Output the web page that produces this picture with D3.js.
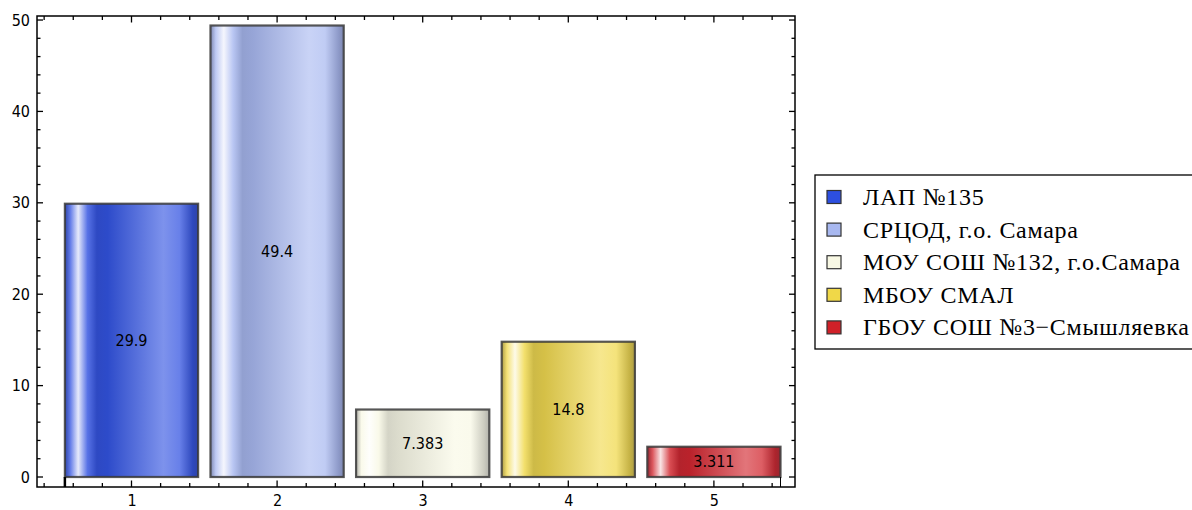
<!DOCTYPE html>
<html>
<head>
<meta charset="utf-8">
<script src="https://cdn.jsdelivr.net/npm/d3@7/dist/d3.min.js"></script>
<style>
  html, body { margin: 0; padding: 0; background: #ffffff; }
  svg { display: block; }
</style>
</head>
<body>
<svg id="chart" width="1192" height="510"></svg>
<script>
// Bar positions, values and series names
const categories = [1, 2, 3, 4, 5];
const values = [29.9, 49.4, 7.383, 14.8, 3.311];
const seriesNames = [
  "ЛАП №135",
  "СРЦОД, г.о. Самара",
  "МОУ СОШ №132, г.о.Самара",
  "МБОУ СМАЛ",
  "ГБОУ СОШ №3−Смышляевка"
];
const seriesColors = ["#2d4fe0", "#a8b8f0", "#f8f8e4", "#f0d848", "#d02028"];
const yTickValues = [0, 10, 20, 30, 40, 50];
const xTickValues = [1, 2, 3, 4, 5];

const svg = d3.select("#chart");
const frame = { left: 37, right: 795, top: 16, bottom: 487 };

const x = d3.scaleLinear().domain([0.351, 5.557]).range([frame.left, frame.right]);
const y = d3.scaleLinear().domain([-1.094, 50.44]).range([frame.bottom, frame.top]);
const barWidth = 0.915;

const tickFont = "'DejaVu Sans Condensed', 'DejaVu Sans', sans-serif";

// Glassy horizontal gradients for each bar
const defs = svg.append("defs");
const mix = (a, b, t) => d3.interpolateRgb(a, b)(t);
seriesColors.forEach((c, i) => {
  const g = defs.append("linearGradient")
    .attr("id", "grad" + i)
    .attr("x1", 0).attr("x2", 1).attr("y1", 0).attr("y2", 0);
  const stops = [
    [0.00, mix(c, "#303040", 0.35)],
    [0.04, mix(c, "#ffffff", 0.25)],
    [0.10, mix(c, "#ffffff", 0.88)],
    [0.17, mix(c, "#ffffff", 0.2)],
    [0.24, mix(c, "#303040", 0.18)],
    [0.32, mix(c, "#303040", 0.14)],
    [0.74, mix(c, "#ffffff", 0.38)],
    [0.86, mix(c, "#ffffff", 0.28)],
    [0.96, mix(c, "#303040", 0.22)],
    [1.00, mix(c, "#303040", 0.35)]
  ];
  stops.forEach(([o, col]) => g.append("stop").attr("offset", o).attr("stop-color", col));
});

// Bars
const bars = svg.append("g");
categories.forEach((cat, i) => {
  const x0 = x(cat - barWidth / 2), x1 = x(cat + barWidth / 2);
  bars.append("rect")
    .attr("x", x0)
    .attr("y", y(values[i]))
    .attr("width", x1 - x0)
    .attr("height", y(0) - y(values[i]))
    .attr("fill", "url(#grad" + i + ")")
    .attr("stroke", "#3a3a3a")
    .attr("stroke-opacity", 0.85)
    .attr("stroke-width", 2.2);
});

// Value labels in the middle of each bar
categories.forEach((cat, i) => {
  svg.append("text")
    .attr("x", x(cat))
    .attr("y", y(values[i] / 2))
    .attr("dy", "0.35em")
    .attr("text-anchor", "middle")
    .attr("font-family", tickFont)
    .attr("font-size", 16)
    .attr("fill", "#000")
    .text(String(values[i]));
});

// Axis stubs at the origin below the bars
svg.append("line")
  .attr("x1", x(categories[0] - barWidth / 2)).attr("x2", x(categories[0] - barWidth / 2))
  .attr("y1", y(0)).attr("y2", frame.bottom)
  .attr("stroke", "#000").attr("stroke-width", 2.5);
svg.append("line")
  .attr("x1", x(categories[4] + barWidth / 2)).attr("x2", x(categories[4] + barWidth / 2))
  .attr("y1", y(0)).attr("y2", frame.bottom)
  .attr("stroke", "#000").attr("stroke-width", 1);

// Frame
svg.append("rect")
  .attr("x", frame.left).attr("y", frame.top)
  .attr("width", frame.right - frame.left).attr("height", frame.bottom - frame.top)
  .attr("fill", "none").attr("stroke", "#000").attr("stroke-width", 1.5);

// Frame ticks
const ticks = svg.append("g").attr("stroke", "#000").attr("stroke-width", 1.3);
const yMinor = d3.range(0, 51, 2);
yMinor.forEach(v => {
  const major = v % 10 === 0;
  const len = major ? 6 : 3.5;
  ticks.append("line").attr("x1", frame.left).attr("x2", frame.left + len)
    .attr("y1", y(v)).attr("y2", y(v));
  ticks.append("line").attr("x1", frame.right).attr("x2", frame.right - len)
    .attr("y1", y(v)).attr("y2", y(v));
});
const xMinor = d3.range(4, 56, 2).map(d => d / 10);
xMinor.forEach(v => {
  const major = Math.abs(v - Math.round(v)) < 1e-9;
  const len = major ? 6.5 : 4;
  ticks.append("line").attr("x1", x(v)).attr("x2", x(v))
    .attr("y1", frame.bottom).attr("y2", frame.bottom - len);
  ticks.append("line").attr("x1", x(v)).attr("x2", x(v))
    .attr("y1", frame.top).attr("y2", frame.top + len);
});

// Tick labels via D3 axes (lines hidden, frame ticks drawn above)
const yAxis = svg.append("g")
  .attr("transform", `translate(${frame.left},0)`)
  .call(d3.axisLeft(y).tickValues(yTickValues).tickFormat(d3.format("d")).tickSize(0).tickPadding(7));
yAxis.select(".domain").remove();
yAxis.selectAll("text").attr("font-family", tickFont).attr("font-size", 16).attr("fill", "#000");

const xAxis = svg.append("g")
  .attr("transform", `translate(0,${frame.bottom})`)
  .call(d3.axisBottom(x).tickValues(xTickValues).tickFormat(d3.format("d")).tickSize(0).tickPadding(8));
xAxis.select(".domain").remove();
xAxis.selectAll("text").attr("font-family", tickFont).attr("font-size", 16).attr("fill", "#000");

// Legend
const legend = svg.append("g");
legend.append("rect")
  .attr("x", 815).attr("y", 175).attr("width", 390).attr("height", 174)
  .attr("fill", "#fff").attr("stroke", "#000").attr("stroke-width", 1.3);
seriesNames.forEach((name, i) => {
  const cy = 197 + i * 32.6;
  legend.append("rect")
    .attr("x", 827).attr("y", cy - 6.5).attr("width", 14).attr("height", 13)
    .attr("fill", seriesColors[i]).attr("stroke", "#333").attr("stroke-width", 1.2);
  legend.append("text")
    .attr("x", 863).attr("y", cy + 8)
    .attr("font-family", "'Liberation Serif', 'DejaVu Serif', serif")
    .attr("font-size", 24)
    .attr("letter-spacing", 0.7)
    .attr("fill", "#000")
    .text(name);
});
</script>
</body>
</html>
